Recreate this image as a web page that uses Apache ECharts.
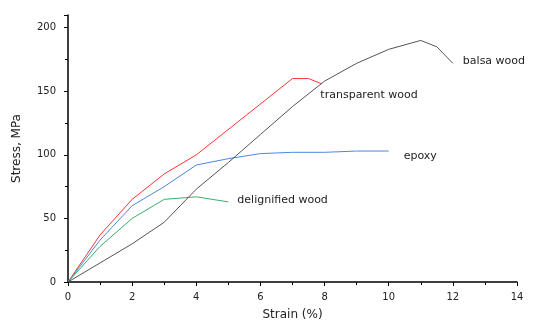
<!DOCTYPE html>
<html>
<head>
<meta charset="utf-8">
<script src="https://cdn.jsdelivr.net/npm/echarts@6/dist/echarts.min.js"></script>
<style>
html, body { margin: 0; padding: 0; background: #fff; }
#chart { width: 547px; height: 321px; }
</style>
</head>
<body>
<div id="chart"></div>
<script>
// strain (%), stress (MPa)
var transparentWood = [[0, 0], [1, 37], [2, 65], [3, 85], [4, 100], [7, 160], [7.5, 160], [7.9, 156]];
var epoxy = [[0, 0], [1, 33], [2, 60], [3, 75], [4, 92], [5, 97], [6, 101], [7, 102], [8, 102], [9, 103], [10, 103]];
var delignifiedWood = [[0, 0], [1, 28], [2, 50], [3, 65], [4, 67], [5, 63]];
var balsaWood = [[0, 0], [1, 15], [2, 30], [3, 47], [4, 73], [5, 94], [6, 116], [7, 138], [8, 158], [9, 172], [10, 183], [11, 190], [11.5, 185], [12, 172]];

var labelFont = {
    color: '#222',
    fontFamily: 'DejaVu Sans',
    fontSize: 11
};

function makeSeries(name, data, color, offset) {
    return {
        name: name,
        type: 'line',
        data: data,
        symbol: 'none',
        animation: false,
        lineStyle: { color: color, width: 1 },
        endLabel: Object.assign({
            show: true,
            formatter: name,
            offset: offset
        }, labelFont)
    };
}

var option = {
    backgroundColor: '#fff',
    grid: { left: 68, right: 30, top: 15, bottom: 39, containLabel: false, outerBoundsMode: 'none' },
    xAxis: {
        type: 'value',
        min: 0,
        max: 14,
        interval: 2,
        name: 'Strain (%)',
        nameLocation: 'middle',
        nameGap: 27,
        nameTextStyle: { color: '#222', fontFamily: 'DejaVu Sans', fontSize: 12 },
        axisLine: { lineStyle: { color: '#000', width: 1.5 } },
        axisTick: { length: 4, lineStyle: { color: '#000' } },
        minorTick: { show: true, splitNumber: 2, length: 3, lineStyle: { color: '#000' } },
        axisLabel: { color: '#222', fontFamily: 'DejaVu Sans', fontSize: 10, margin: 10 },
        splitLine: { show: false }
    },
    yAxis: {
        type: 'value',
        min: 0,
        max: 210,
        interval: 50,
        name: 'Stress, MPa',
        nameLocation: 'middle',
        nameGap: 45,
        nameTextStyle: { color: '#222', fontFamily: 'DejaVu Sans', fontSize: 12 },
        axisLine: { lineStyle: { color: '#000', width: 1.5 } },
        axisTick: { length: 4, lineStyle: { color: '#000' } },
        minorTick: { show: true, splitNumber: 2, length: 3, lineStyle: { color: '#000' } },
        axisLabel: { color: '#222', fontFamily: 'DejaVu Sans', fontSize: 10, margin: 12, showMaxLabel: false },
        splitLine: { show: false }
    },
    series: [
        makeSeries('transparent wood', transparentWood, '#ff3333', [-9, 11]),
        makeSeries('epoxy', epoxy, '#4a88e0', [7, 5]),
        makeSeries('delignified wood', delignifiedWood, '#3aae6a', [1, -2]),
        makeSeries('balsa wood', balsaWood, '#555555', [2, -2])
    ]
};

var chart = echarts.init(document.getElementById('chart'));
chart.setOption(option);
</script>
</body>
</html>
